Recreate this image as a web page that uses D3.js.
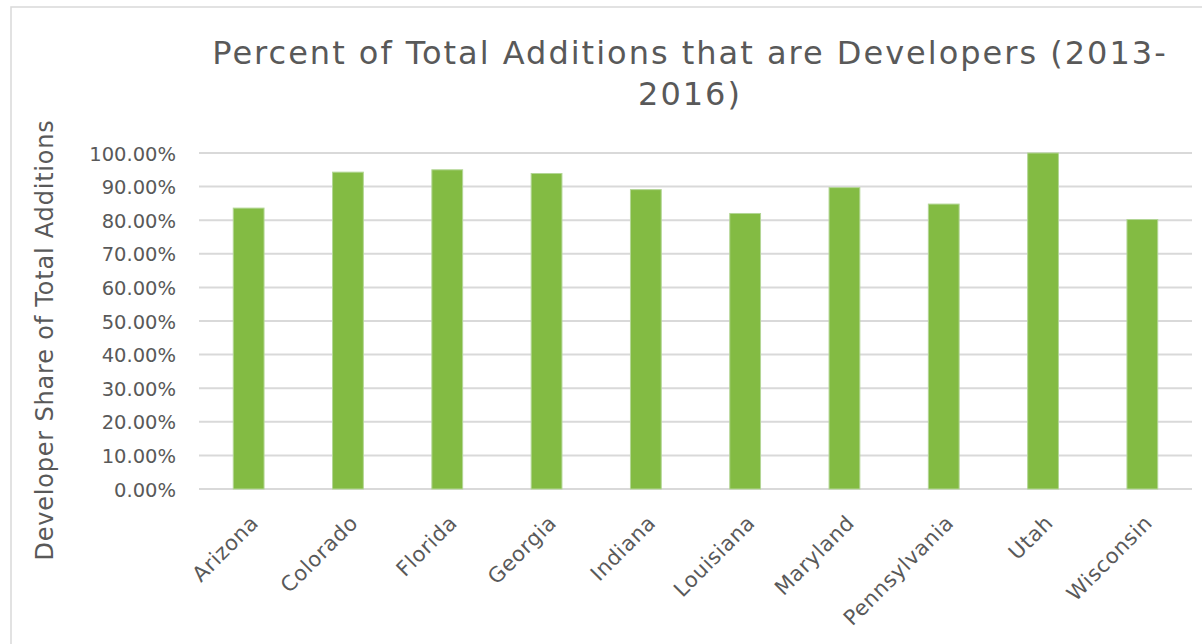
<!DOCTYPE html>
<html>
<head>
<meta charset="utf-8">
<script src="https://cdn.jsdelivr.net/npm/d3@7/dist/d3.min.js"></script>
<style>
  html, body { margin: 0; padding: 0; background: #fff; }
  svg, svg text { font-family: "DejaVu Sans", Lato, sans-serif; }
</style>
</head>
<body>
<div id="chart"></div>
<script>
// Developer share of total additions by state, 2013-2016
const states = ["Arizona", "Colorado", "Florida", "Georgia", "Indiana",
                "Louisiana", "Maryland", "Pennsylvania", "Utah", "Wisconsin"];
const developerShare = [0.836, 0.943, 0.950, 0.939, 0.891,
                        0.820, 0.897, 0.848, 1.000, 0.802];
const yTicks = [0, 0.1, 0.2, 0.3, 0.4, 0.5, 0.6, 0.7, 0.8, 0.9, 1.0];
const titleLines = ["Percent of Total Additions that are Developers (2013-", "2016)"];
const yAxisTitle = "Developer Share of Total Additions";

const W = 1202, H = 644;
const plot = { left: 199, right: 1192, top: 153, bottom: 489 };
const textColor = "#595959";

const svg = d3.select("#chart").append("svg")
  .attr("width", W).attr("height", H);

svg.append("rect").attr("width", W).attr("height", H).attr("fill", "#fff");

// chart frame
svg.append("rect")
  .attr("x", 11).attr("y", 7)
  .attr("width", W + 20).attr("height", H + 20)
  .attr("fill", "none").attr("stroke", "#d9d9d9").attr("stroke-width", 1.5);

const x = d3.scaleBand().domain(states)
  .range([plot.left, plot.right]).paddingInner(0.69).paddingOuter(0.345);
const y = d3.scaleLinear().domain([0, 1]).range([plot.bottom, plot.top]);

// gridlines
svg.append("g").selectAll("line").data(yTicks).join("line")
  .attr("x1", plot.left).attr("x2", plot.right)
  .attr("y1", d => y(d)).attr("y2", d => y(d))
  .attr("stroke", "#d9d9d9").attr("stroke-width", 2);

// y axis labels
const yAxis = d3.axisLeft(y).tickValues(yTicks)
  .tickFormat(d3.format(".2%")).tickSize(0).tickPadding(0);
const gy = svg.append("g").attr("transform", `translate(${176},0)`).call(yAxis)
  .attr("font-family", null);
gy.select(".domain").remove();
gy.selectAll("text").attr("fill", textColor)
  .style("font-size", "19.5px").attr("dy", "0.36em");

// bars
svg.append("g").selectAll("rect").data(states).join("rect")
  .attr("x", d => x(d))
  .attr("width", x.bandwidth())
  .attr("y", (d, i) => y(developerShare[i]))
  .attr("height", (d, i) => y(0) - y(developerShare[i]))
  .attr("fill", "#83bb43")
  .attr("stroke", "#b3d695").attr("stroke-width", 1);

// x axis labels, rotated
const xAxis = d3.axisBottom(x).tickSize(0).tickPadding(0);
const gx = svg.append("g").attr("transform", `translate(0,${plot.bottom})`).call(xAxis)
  .attr("font-family", null);
gx.select(".domain").remove();
gx.selectAll("text")
  .attr("fill", textColor)
  .style("font-size", "21px")
  .style("letter-spacing", "0.6px")
  .attr("text-anchor", "end")
  .attr("y", 0).attr("dy", "0.35em")
  .attr("transform", "translate(6,30) rotate(-45)");

// title
const title = svg.append("text")
  .attr("text-anchor", "middle")
  .attr("fill", textColor)
  .style("font-size", "32px")
  .style("letter-spacing", "2px");
title.selectAll("tspan").data(titleLines).join("tspan")
  .attr("x", 690)
  .attr("y", (d, i) => 64 + i * 41)
  .text(d => d);

// y axis title
svg.append("text")
  .attr("transform", `translate(53,340) rotate(-90)`)
  .attr("text-anchor", "middle")
  .attr("fill", textColor)
  .style("font-size", "24px")
  .style("letter-spacing", "0.8px")
  .text(yAxisTitle);
</script>
</body>
</html>
